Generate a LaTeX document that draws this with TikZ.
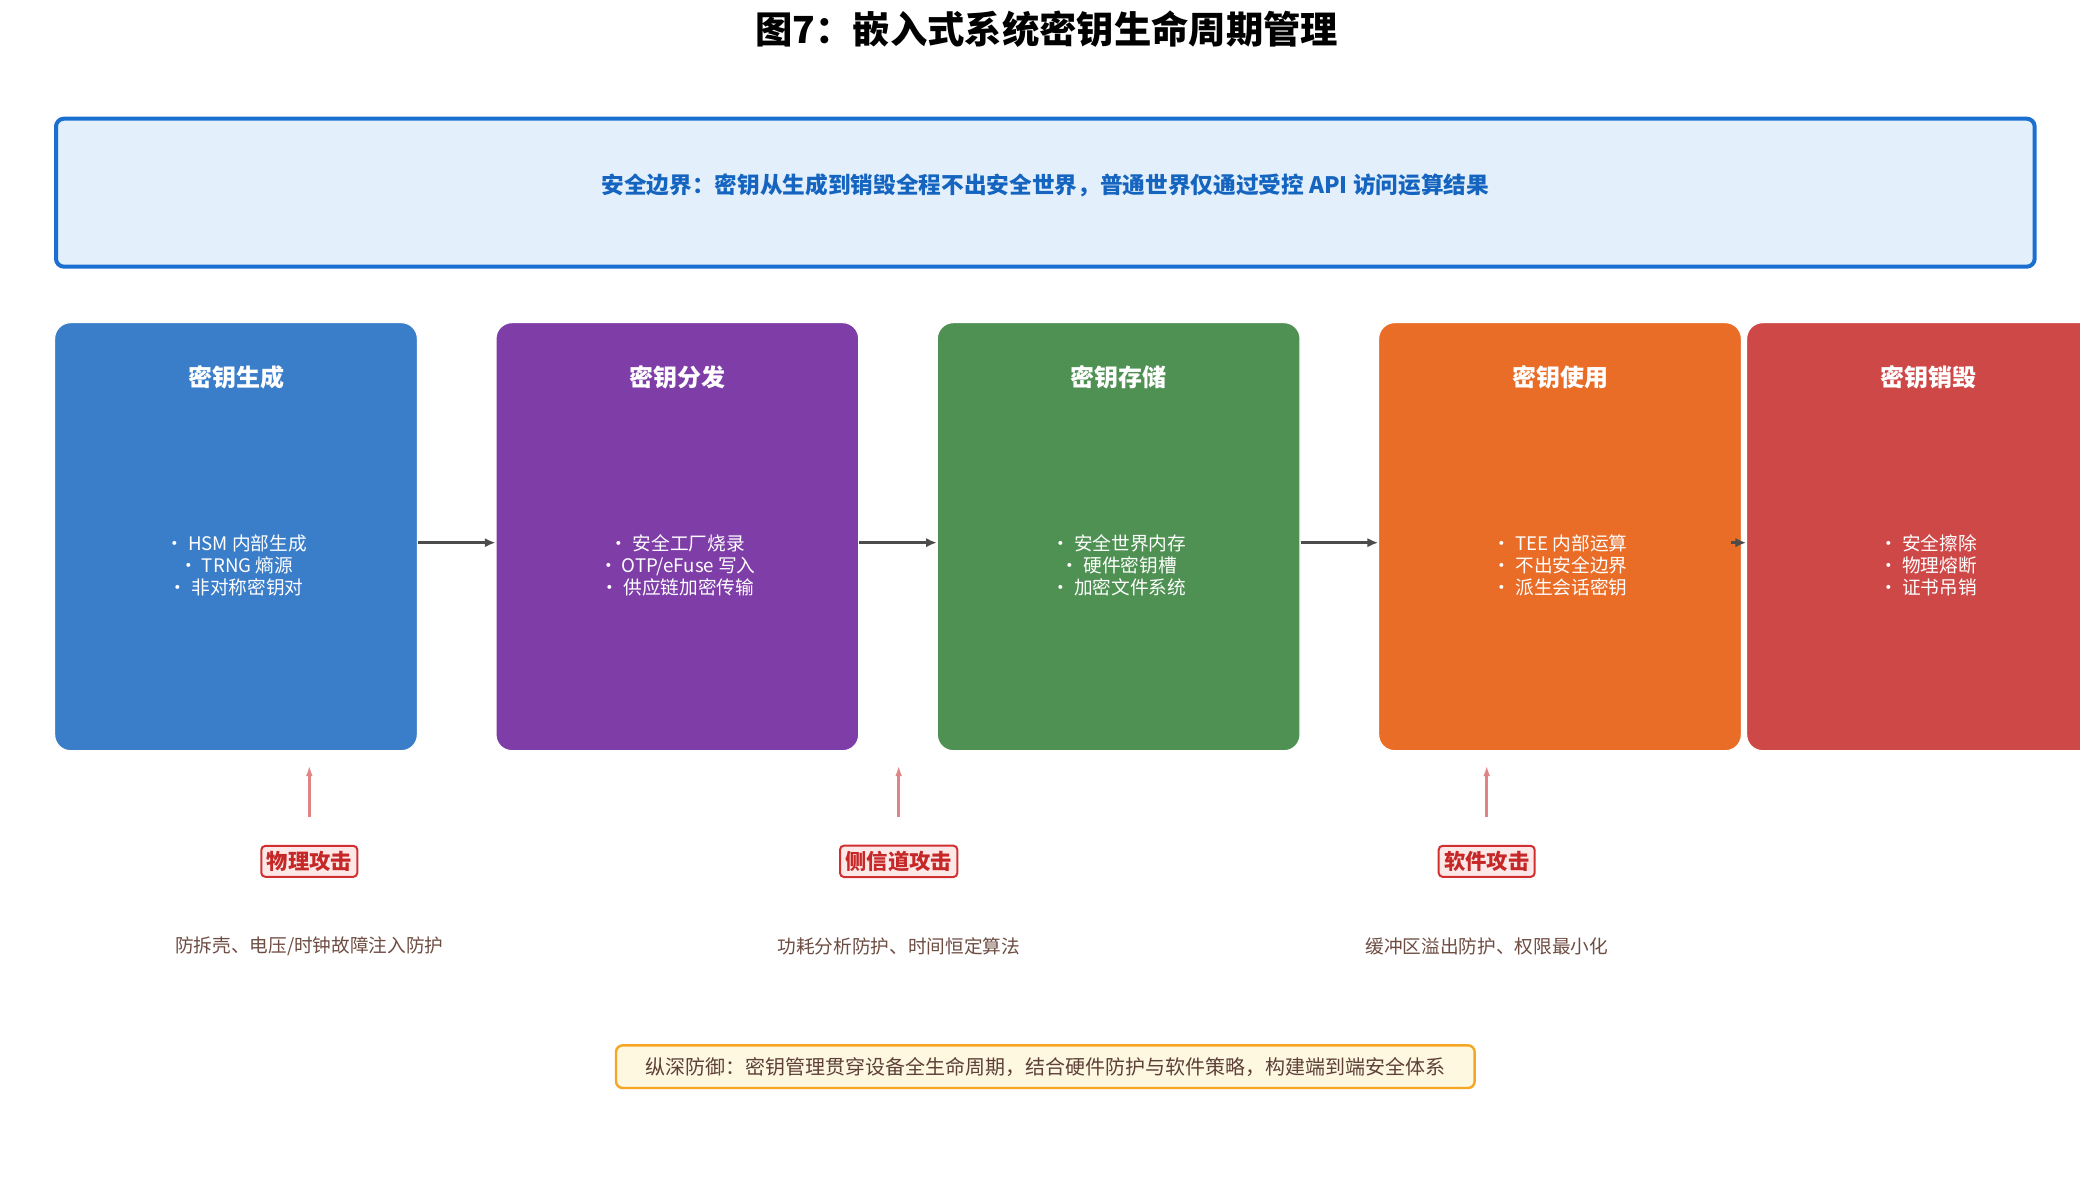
\documentclass[tikz,border=0pt]{standalone}
\usepackage{fontspec}
\setmainfont{Noto Sans CJK SC}
\usetikzlibrary{arrows.meta}
\definecolor{cA}{HTML}{3A7DC9}
\definecolor{cB}{HTML}{7F3DA8}
\definecolor{cC}{HTML}{4E9152}
\definecolor{cD}{HTML}{E96C27}
\definecolor{cE}{HTML}{CF4848}
\definecolor{bannerfill}{HTML}{E3F0FB}
\definecolor{bannerline}{HTML}{1A6FD0}
\definecolor{bannertext}{HTML}{1565C0}
\definecolor{atkfill}{HTML}{FDE8E8}
\definecolor{atkline}{HTML}{D03030}
\definecolor{atktext}{HTML}{C62828}
\definecolor{atkarrow}{HTML}{E08585}
\definecolor{desc}{HTML}{6D4C41}
\definecolor{footfill}{HTML}{FFF8E1}
\definecolor{footline}{HTML}{F5A623}
\definecolor{foottext}{HTML}{5D4037}
\tikzset{
  stage/.style={rounded corners=12pt, minimum width=272pt, minimum height=321pt, draw=white, line width=0.8pt, inner sep=0pt},
  stitle/.style={text=white, font=\fontsize{18}{20}\selectfont\bfseries},
  sbody/.style={text=white, font=\fontsize{14}{16.5}\selectfont, align=center},
  flow/.style={-{Latex[length=8pt,width=7pt]}, draw=black!70, line width=2.5pt},
  atk/.style={draw=atkline, fill=atkfill, line width=1.5pt, rounded corners=3pt, text=atktext, font=\fontsize{16}{18}\selectfont\bfseries, inner sep=4pt},
  atkarr/.style={-{Latex[length=8pt,width=5pt]}, draw=atkarrow, line width=1.8pt},
  dsc/.style={text=desc, font=\fontsize{14}{16}\selectfont},
}
\begin{document}
\begin{tikzpicture}[x=1pt,y=-1pt]
\useasboundingbox (0,0) rectangle (1560,884);
\clip (0,0) rectangle (1560,884);
\node (title) at (785,22) {\fontsize{28}{30}\selectfont\bfseries 图7：嵌入式系统密钥生命周期管理};
\node[draw=bannerline, fill=bannerfill, line width=3pt, rounded corners=6pt, minimum width=1484pt, minimum height=111pt] (banner) at (784,144.5) {};
\node[text=bannertext, font=\fontsize{17}{19}\selectfont\bfseries] (bannertxt) at (784,139) {安全边界：密钥从生成到销毁全程不出安全世界，普通世界仅通过受控 API 访问运算结果};

\node[stage, fill=cA] (s1) at (177,402.5) {};
\node[stage, fill=cB] (s2) at (508,402.5) {};
\node[stage, fill=cC] (s3) at (839,402.5) {};
\node[stage, fill=cD] (s4) at (1170,402.5) {};
\node[stage, fill=cE] (s5) at (1446,402.5) {};

\node[stitle] (t1) at (177,283) {密钥生成};
\node[stitle] (t2) at (508,283) {密钥分发};
\node[stitle] (t3) at (839,283) {密钥存储};
\node[stitle] (t4) at (1170,283) {密钥使用};
\node[stitle] (t5) at (1446,283) {密钥销毁};

\node[sbody] (b1) at (177,424) {• HSM 内部生成\\• TRNG 熵源\\• 非对称密钥对};
\node[sbody] (b2) at (508,424) {• 安全工厂烧录\\• OTP/eFuse 写入\\• 供应链加密传输};
\node[sbody] (b3) at (839,424) {• 安全世界内存\\• 硬件密钥槽\\• 加密文件系统};
\node[sbody] (b4) at (1170,424) {• TEE 内部运算\\• 不出安全边界\\• 派生会话密钥};
\node[sbody] (b5) at (1446,424) {• 安全擦除\\• 物理熔断\\• 证书吊销};

\draw[flow] (s1.east |- 0,407) -- (s2.west |- 0,407);
\draw[flow] (s2.east |- 0,407) -- (s3.west |- 0,407);
\draw[flow] (s3.east |- 0,407) -- (s4.west |- 0,407);
\draw[flow, line width=2pt] (1298,407) -- (s5.west |- 0,407);

\node[atk] (a1) at (232,646) {物理攻击};
\node[atk] (a2) at (674,646) {侧信道攻击};
\node[atk] (a3) at (1115,646) {软件攻击};
\coordinate (p1) at (232,574);
\coordinate (p2) at (674,574);
\coordinate (p3) at (1115,574);
\coordinate (q1) at (232,613);
\coordinate (q2) at (674,613);
\coordinate (q3) at (1115,613);
\draw[atkarr] (q1) -- (p1);
\draw[atkarr] (q2) -- (p2);
\draw[atkarr] (q3) -- (p3);

\node[dsc] (d1) at (232,710) {防拆壳、电压/时钟故障注入防护};
\node[dsc] (d2) at (674,710) {功耗分析防护、时间恒定算法};
\node[dsc] (d3) at (1115,710) {缓冲区溢出防护、权限最小化};

\node[draw=footline, fill=footfill, line width=1.8pt, rounded corners=5pt, minimum width=644pt, minimum height=32pt, text=foottext, font=\fontsize{15}{17}\selectfont] (foot) at (784,800) {纵深防御：密钥管理贯穿设备全生命周期，结合硬件防护与软件策略，构建端到端安全体系};
\end{tikzpicture}
\end{document}
